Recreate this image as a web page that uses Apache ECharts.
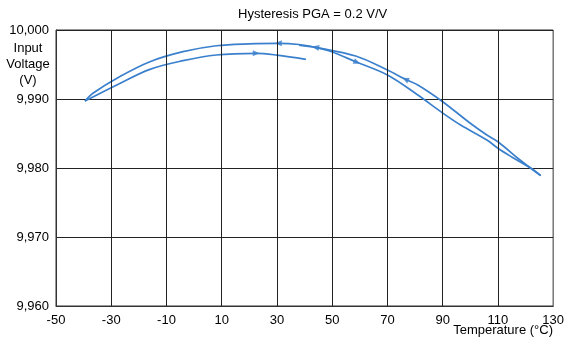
<!DOCTYPE html>
<html>
<head>
<meta charset="utf-8">
<script src="https://cdn.jsdelivr.net/npm/echarts@6/dist/echarts.min.js"></script>
<style>html,body{margin:0;padding:0;background:#fff}#main{width:567px;height:343px}</style>
</head>
<body>
<div id="main"></div>
<script>
// Temperature (°C), Input Voltage (V)
const heating = [[38,9.9978],[44,9.99745],[49,9.99696],[59,9.99532],[70,9.99348],[81,9.99058],[90,9.98797],[96.5,9.98623],[106,9.98406],[110,9.98286],[115,9.9816],[122,9.97996],[125.5,9.9789]];
const cooling = [[125.5,9.9789],[118,9.98116],[110,9.98381],[106,9.98478],[100,9.98648],[90,9.98961],[81,9.99203],[76.5,9.99286],[70,9.9942],[58.5,9.99623],[44,9.99749],[38,9.9979],[30.5,9.99807],[20,9.9980],[8,9.99772],[-4,9.99686],[-16,9.99541],[-27,9.99323],[-36.5,9.99087],[-39.5,9.9897]];
const reheat = [[-39.5,9.9897],[-28,9.99203],[-16,9.9943],[-4,9.99555],[8,9.99638],[22.5,9.99662],[30,9.99636],[40.5,9.99575]];
// arrow locations: index of the point in each path
const heatingArrows = [3];
const coolingArrows = [7,10,12];
const reheatArrows = [5];
const xTickLabels = [-50,-30,-10,10,30,50,70,90,110,130];
const yTickLabels = ['9,960','9,970','9,980','9,990','10,000'];

const lineColor = '#3b80cd';
const font = 'Liberation Sans, Arial, sans-serif';
const fs = 13;
const chart = echarts.init(document.getElementById('main'));
const option = {
  animation: false,
  title: {
    text: 'Hysteresis PGA = 0.2 V/V',
    left: 233, top: 3,
    textStyle: {fontSize: fs, fontWeight: 'normal', color: '#000', fontFamily: font}
  },
  grid: {left: 56, right: 11, top: 30, bottom: 37, show: true, borderColor: '#333', borderWidth: 1},
  xAxis: {
    type: 'value', min: -50, max: 130, interval: 10,
    axisLine: {show: true, onZero: false, lineStyle: {color: '#333'}},
    axisTick: {show: false},
    axisLabel: {
      margin: 8, color: '#000', fontSize: fs, fontFamily: font,
      formatter: v => xTickLabels.indexOf(Math.round(v)) >= 0 ? String(Math.round(v)) : ''
    },
    splitLine: {show: false}
  },
  yAxis: {
    type: 'value', min: 9.96, max: 10.0, interval: 0.01,
    axisLine: {show: true, onZero: false, lineStyle: {color: '#333'}},
    axisTick: {show: false},
    axisLabel: {
      margin: 7, color: '#000', fontSize: fs, fontFamily: font,
      formatter: v => yTickLabels[Math.round((v - 9.96) / 0.01)]
    },
    splitLine: {show: true, lineStyle: {color: '#222', width: 1}}
  },
  graphic: [
    {type: 'text', x: 28, y: 40, style: {text: 'Input\nVoltage\n(V)', x: 0, y: 0, textAlign: 'center', align: 'center', lineHeight: 16, fill: '#000', font: fs + 'px ' + font}},
    {type: 'text', right: 14, top: 324, style: {text: 'Temperature (°C)', fill: '#000', font: fs + 'px ' + font}}
  ],
  series: [
    {type: 'line', data: [], silent: true, symbol: 'none', lineStyle: {opacity: 0},
     markLine: {silent: true, symbol: 'none', label: {show: false}, lineStyle: {color: '#222', width: 1, type: 'solid'},
       data: xTickLabels.slice(1, -1).map(v => ({xAxis: v}))}},
    {type: 'line', data: heating, smooth: 0.35, symbol: 'none', lineStyle: {color: lineColor, width: 1.7}},
    {type: 'line', data: cooling, smooth: 0.35, symbol: 'none', lineStyle: {color: lineColor, width: 1.7}},
    {type: 'line', data: reheat, smooth: 0.35, symbol: 'none', lineStyle: {color: lineColor, width: 1.7}},
    {id: 'arrows', type: 'scatter', symbol: 'triangle', symbolSize: [6, 7], itemStyle: {color: lineColor}, data: []}
  ]
};
chart.setOption(option);
function arrowData(path, idxs) {
  return idxs.map(i => {
    const a = chart.convertToPixel({gridIndex: 0}, path[i - 1]);
    const b = chart.convertToPixel({gridIndex: 0}, path[i + 1]);
    const ang = Math.atan2(-(b[1] - a[1]), b[0] - a[0]) * 180 / Math.PI;
    return {value: path[i], symbolRotate: ang - 90};
  });
}
chart.setOption({series: [{id: 'arrows', data: [
  ...arrowData(heating, heatingArrows),
  ...arrowData(cooling, coolingArrows),
  ...arrowData(reheat, reheatArrows)
]}]});
</script>
</body>
</html>
